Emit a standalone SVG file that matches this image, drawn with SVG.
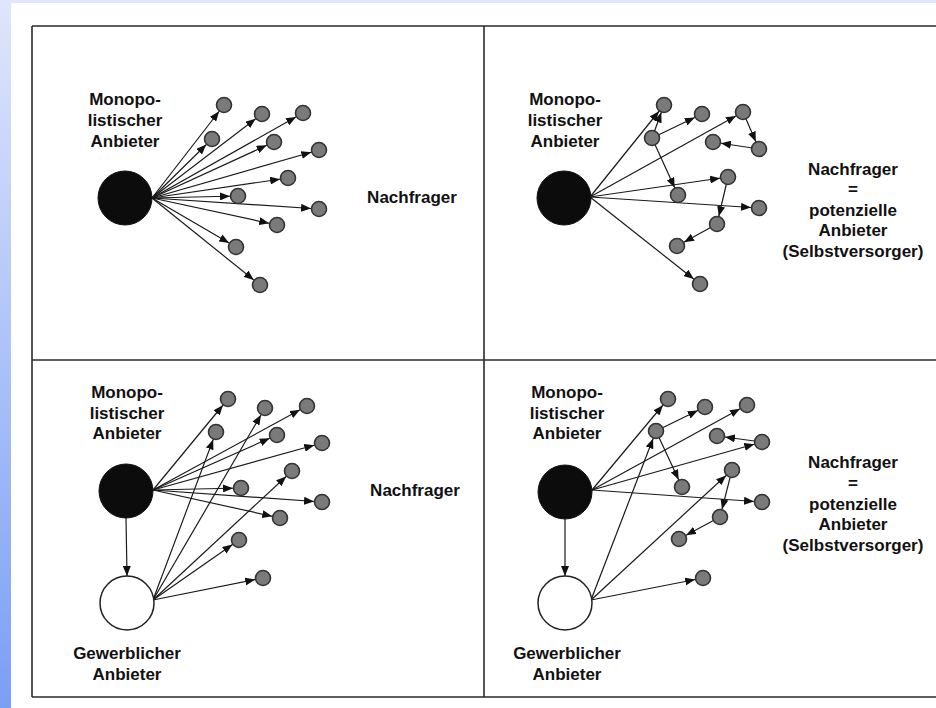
<svg xmlns="http://www.w3.org/2000/svg" width="936" height="708" viewBox="0 0 936 708">
<style>
.fr{stroke:#2b2b2b;stroke-width:1.6;fill:none}
.c line{stroke:#1a1a1a;stroke-width:1.2;fill:none;marker-end:url(#ah)}
.c line.v{marker-end:url(#ah0)}
.sn{fill:#7a7a7a;stroke:#333;stroke-width:1.6}
.big{fill:#0c0c0c;stroke:#111;stroke-width:1}
.wh{fill:#fff;stroke:#222;stroke-width:1.5}
text{font-family:"Liberation Sans",Arial,sans-serif;font-weight:bold;font-size:17px;text-anchor:middle;fill:#111}
</style>
<defs>
<linearGradient id="lb" x1="0" y1="0" x2="0" y2="1">
<stop offset="0" stop-color="#dfe6fb"/>
<stop offset="1" stop-color="#7b9ef6"/>
</linearGradient>
<marker id="ah" markerUnits="userSpaceOnUse" markerWidth="11" markerHeight="8" refX="18" refY="4" orient="auto">
<path d="M0,0 L10,4 L0,8 z" fill="#111"/>
</marker>
<marker id="ah0" markerUnits="userSpaceOnUse" markerWidth="11" markerHeight="8" refX="10" refY="4" orient="auto">
<path d="M0,0 L10,4 L0,8 z" fill="#111"/>
</marker>
</defs>
<rect x="0" y="0" width="936" height="708" fill="#fff"/>
<rect x="0" y="0" width="936" height="3" fill="#dfe6fb"/>
<rect x="0" y="0" width="11" height="708" fill="url(#lb)"/>
<g id="frame">
<path class="fr" d="M32,26 H936 M32,697 H936 M32,26 V697 M484,26 V697 M32,360 H936"/>
</g>
<g id="connectors" class="c">
<line x1="152" y1="198" x2="224" y2="105"/>
<line x1="152" y1="198" x2="262" y2="114"/>
<line x1="152" y1="198" x2="303" y2="113"/>
<line x1="152" y1="198" x2="212" y2="139"/>
<line x1="152" y1="198" x2="274" y2="142"/>
<line x1="152" y1="198" x2="319" y2="150"/>
<line x1="152" y1="198" x2="288" y2="178"/>
<line x1="152" y1="198" x2="238" y2="196"/>
<line x1="152" y1="198" x2="319" y2="209"/>
<line x1="152" y1="198" x2="277" y2="225"/>
<line x1="152" y1="198" x2="236" y2="247"/>
<line x1="152" y1="198" x2="260" y2="285"/>
<line x1="590" y1="197" x2="664" y2="105"/>
<line x1="652" y1="138" x2="664" y2="105"/>
<line x1="652" y1="138" x2="702" y2="114"/>
<line x1="590" y1="197" x2="743" y2="112"/>
<line x1="743" y1="112" x2="759" y2="149"/>
<line x1="759" y1="149" x2="713" y2="142"/>
<line x1="652" y1="138" x2="678" y2="195"/>
<line x1="590" y1="197" x2="728" y2="177"/>
<line x1="590" y1="197" x2="759" y2="208"/>
<line x1="728" y1="177" x2="717" y2="224"/>
<line x1="717" y1="224" x2="677" y2="246"/>
<line x1="590" y1="197" x2="700" y2="284"/>
<line x1="153" y1="490" x2="228" y2="399"/>
<line x1="153" y1="490" x2="307" y2="406"/>
<line x1="153" y1="490" x2="277" y2="435"/>
<line x1="153" y1="490" x2="322" y2="443"/>
<line x1="153" y1="490" x2="241" y2="488"/>
<line x1="153" y1="490" x2="322" y2="502"/>
<line x1="153" y1="490" x2="280" y2="518"/>
<line x1="153" y1="600" x2="216" y2="432"/>
<line x1="153" y1="600" x2="265" y2="408"/>
<line x1="153" y1="600" x2="292" y2="471"/>
<line x1="153" y1="600" x2="239" y2="540"/>
<line x1="153" y1="600" x2="263" y2="578"/>
<line class="v" x1="126" y1="518" x2="127" y2="576"/>
<line x1="592" y1="490" x2="668" y2="399"/>
<line x1="592" y1="490" x2="747" y2="405"/>
<line x1="592" y1="490" x2="762" y2="442"/>
<line x1="592" y1="490" x2="762" y2="502"/>
<line x1="656" y1="431" x2="705" y2="407"/>
<line x1="656" y1="431" x2="682" y2="487"/>
<line x1="762" y1="442" x2="717" y2="436"/>
<line x1="591" y1="600" x2="656" y2="431"/>
<line x1="591" y1="600" x2="732" y2="470"/>
<line x1="591" y1="600" x2="703" y2="578"/>
<line x1="732" y1="470" x2="720" y2="517"/>
<line x1="720" y1="517" x2="679" y2="539"/>
<line class="v" x1="565" y1="519" x2="565" y2="576"/>
</g>
<g id="panel-tl">
<g id="tl-monopolist"><circle class="big" cx="125" cy="198" r="27"/>
<text x="125" y="105">Monopo-</text><text x="125" y="126">listischer</text><text x="125" y="147">Anbieter</text></g>
<g id="tl-nachfrager">
<circle class="sn" cx="224" cy="105" r="7.5"/><circle class="sn" cx="262" cy="114" r="7.5"/><circle class="sn" cx="303" cy="113" r="7.5"/>
<circle class="sn" cx="212" cy="139" r="7.5"/><circle class="sn" cx="274" cy="142" r="7.5"/><circle class="sn" cx="319" cy="150" r="7.5"/>
<circle class="sn" cx="288" cy="178" r="7.5"/><circle class="sn" cx="238" cy="196" r="7.5"/><circle class="sn" cx="319" cy="209" r="7.5"/>
<circle class="sn" cx="277" cy="225" r="7.5"/><circle class="sn" cx="236" cy="247" r="7.5"/><circle class="sn" cx="260" cy="285" r="7.5"/>
<text x="412" y="203">Nachfrager</text></g>
</g>
<g id="panel-tr">
<g id="tr-monopolist"><circle class="big" cx="564" cy="198" r="27"/>
<text x="565" y="105">Monopo-</text><text x="565" y="126">listischer</text><text x="565" y="147">Anbieter</text></g>
<g id="tr-nachfrager">
<circle class="sn" cx="664" cy="105" r="7.5"/><circle class="sn" cx="702" cy="114" r="7.5"/><circle class="sn" cx="743" cy="112" r="7.5"/>
<circle class="sn" cx="652" cy="138" r="7.5"/><circle class="sn" cx="713" cy="142" r="7.5"/><circle class="sn" cx="759" cy="149" r="7.5"/>
<circle class="sn" cx="728" cy="177" r="7.5"/><circle class="sn" cx="678" cy="195" r="7.5"/><circle class="sn" cx="759" cy="208" r="7.5"/>
<circle class="sn" cx="717" cy="224" r="7.5"/><circle class="sn" cx="677" cy="246" r="7.5"/><circle class="sn" cx="700" cy="284" r="7.5"/>
<text x="853" y="175">Nachfrager</text><text x="853" y="195">=</text><text x="853" y="216">potenzielle</text><text x="853" y="236">Anbieter</text><text x="853" y="257">(Selbstversorger)</text></g>
</g>
<g id="panel-bl">
<g id="bl-monopolist"><circle class="big" cx="126" cy="491" r="27"/>
<text x="127" y="398">Monopo-</text><text x="127" y="419">listischer</text><text x="127" y="439">Anbieter</text></g>
<g id="bl-gewerblich"><circle class="wh" cx="127" cy="603" r="27"/>
<text x="127" y="659">Gewerblicher</text><text x="127" y="680">Anbieter</text></g>
<g id="bl-nachfrager">
<circle class="sn" cx="228" cy="399" r="7.5"/><circle class="sn" cx="265" cy="408" r="7.5"/><circle class="sn" cx="307" cy="406" r="7.5"/>
<circle class="sn" cx="216" cy="432" r="7.5"/><circle class="sn" cx="277" cy="435" r="7.5"/><circle class="sn" cx="322" cy="443" r="7.5"/>
<circle class="sn" cx="292" cy="471" r="7.5"/><circle class="sn" cx="241" cy="488" r="7.5"/><circle class="sn" cx="322" cy="502" r="7.5"/>
<circle class="sn" cx="280" cy="518" r="7.5"/><circle class="sn" cx="239" cy="540" r="7.5"/><circle class="sn" cx="263" cy="578" r="7.5"/>
<text x="415" y="496">Nachfrager</text></g>
</g>
<g id="panel-br">
<g id="br-monopolist"><circle class="big" cx="565" cy="492" r="27"/>
<text x="567" y="398">Monopo-</text><text x="567" y="419">listischer</text><text x="567" y="439">Anbieter</text></g>
<g id="br-gewerblich"><circle class="wh" cx="565" cy="603" r="27"/>
<text x="567" y="659">Gewerblicher</text><text x="567" y="680">Anbieter</text></g>
<g id="br-nachfrager">
<circle class="sn" cx="668" cy="399" r="7.5"/><circle class="sn" cx="705" cy="407" r="7.5"/><circle class="sn" cx="747" cy="405" r="7.5"/>
<circle class="sn" cx="656" cy="431" r="7.5"/><circle class="sn" cx="717" cy="436" r="7.5"/><circle class="sn" cx="762" cy="442" r="7.5"/>
<circle class="sn" cx="732" cy="470" r="7.5"/><circle class="sn" cx="682" cy="487" r="7.5"/><circle class="sn" cx="762" cy="502" r="7.5"/>
<circle class="sn" cx="720" cy="517" r="7.5"/><circle class="sn" cx="679" cy="539" r="7.5"/><circle class="sn" cx="703" cy="578" r="7.5"/>
<text x="853" y="468">Nachfrager</text><text x="853" y="489">=</text><text x="853" y="510">potenzielle</text><text x="853" y="530">Anbieter</text><text x="853" y="551">(Selbstversorger)</text></g>
</g>
</svg>
